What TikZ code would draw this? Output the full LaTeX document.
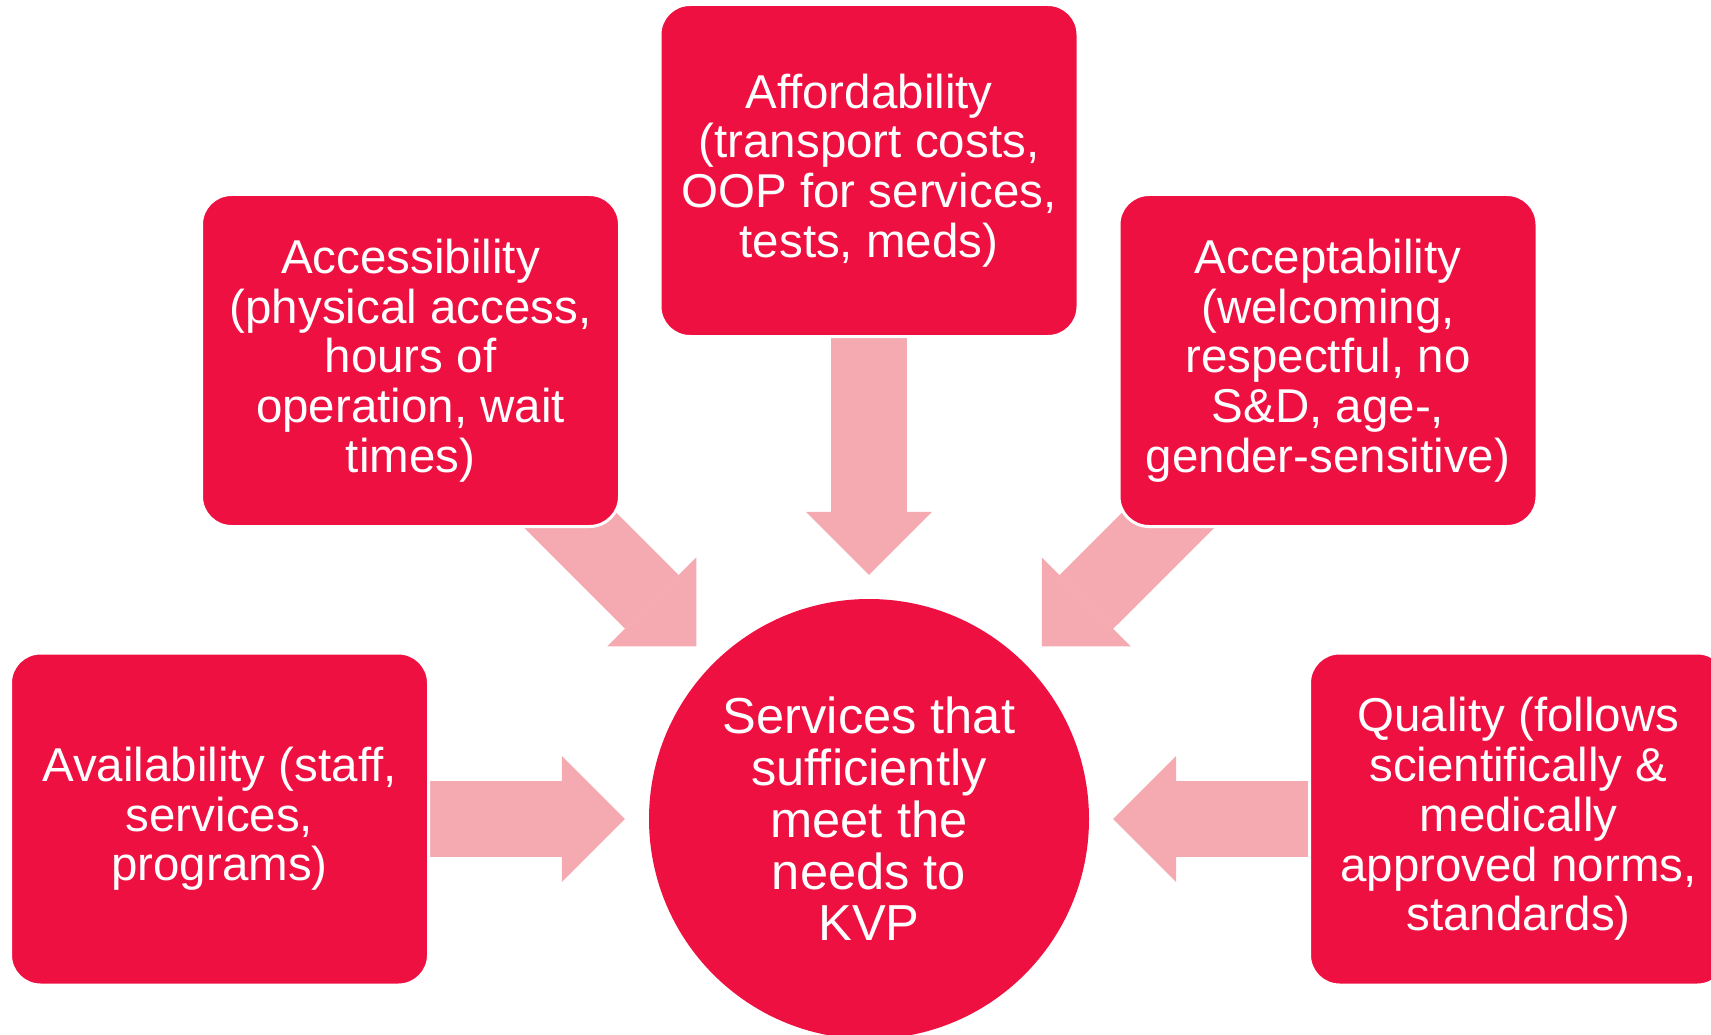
\documentclass[tikz,border=0pt]{standalone}
\usepackage{fontspec}
\setmainfont{Liberation Sans}
\usetikzlibrary{arrows.meta,backgrounds}
\definecolor{boxred}{RGB}{238,16,64}
\definecolor{arrowpink}{RGB}{244,170,176}
\tikzset{
  box/.style={rectangle, rounded corners=30pt, fill=boxred, draw=white, line width=3pt,
    text=white, align=center, font=\fontsize{47.5}{49.7}\selectfont,
    minimum width=418pt, minimum height=332pt, inner sep=0pt},
  hub/.style={circle, fill=boxred, text=white, align=center,
    font=\fontsize{50.6}{51.8}\selectfont, minimum size=440pt, inner sep=0pt},
  fatarrow/.style={draw=arrowpink, line width=76pt,
    -{Triangle[length=63pt,width=126pt,line width=0pt]}, shorten >=24pt}
}
\begin{document}
\begin{tikzpicture}[x=1pt,y=-1pt]
\useasboundingbox (0,0) rectangle (1711,1035);
\node[box] (afford) at (869,170.5) {Affordability\\(transport costs,\\OOP for services,\\tests, meds)};
\node[box] (access) at (410.5,360.5) {Accessibility\\(physical access,\\hours of\\operation, wait\\times)};
\node[box] (accept) at (1328,360.5) {Acceptability\\(welcoming,\\respectful, no\\S\&D, age-,\\gender-sensitive)};
\node[box] (avail) at (219.5,819) {Availability (staff,\\services,\\programs)};
\node[box] (quality) at (1518.5,819) {Quality (follows\\scientifically \&\\medically\\approved norms,\\standards)};
\node[hub] (kvp) at (869,819) {Services that\\sufficiently\\meet the\\needs to\\KVP};
\begin{scope}[on background layer]
  \foreach \n in {afford,access,accept,avail,quality}
    \draw[fatarrow] (\n.center) -- (kvp);
\end{scope}
\end{tikzpicture}
\end{document}
